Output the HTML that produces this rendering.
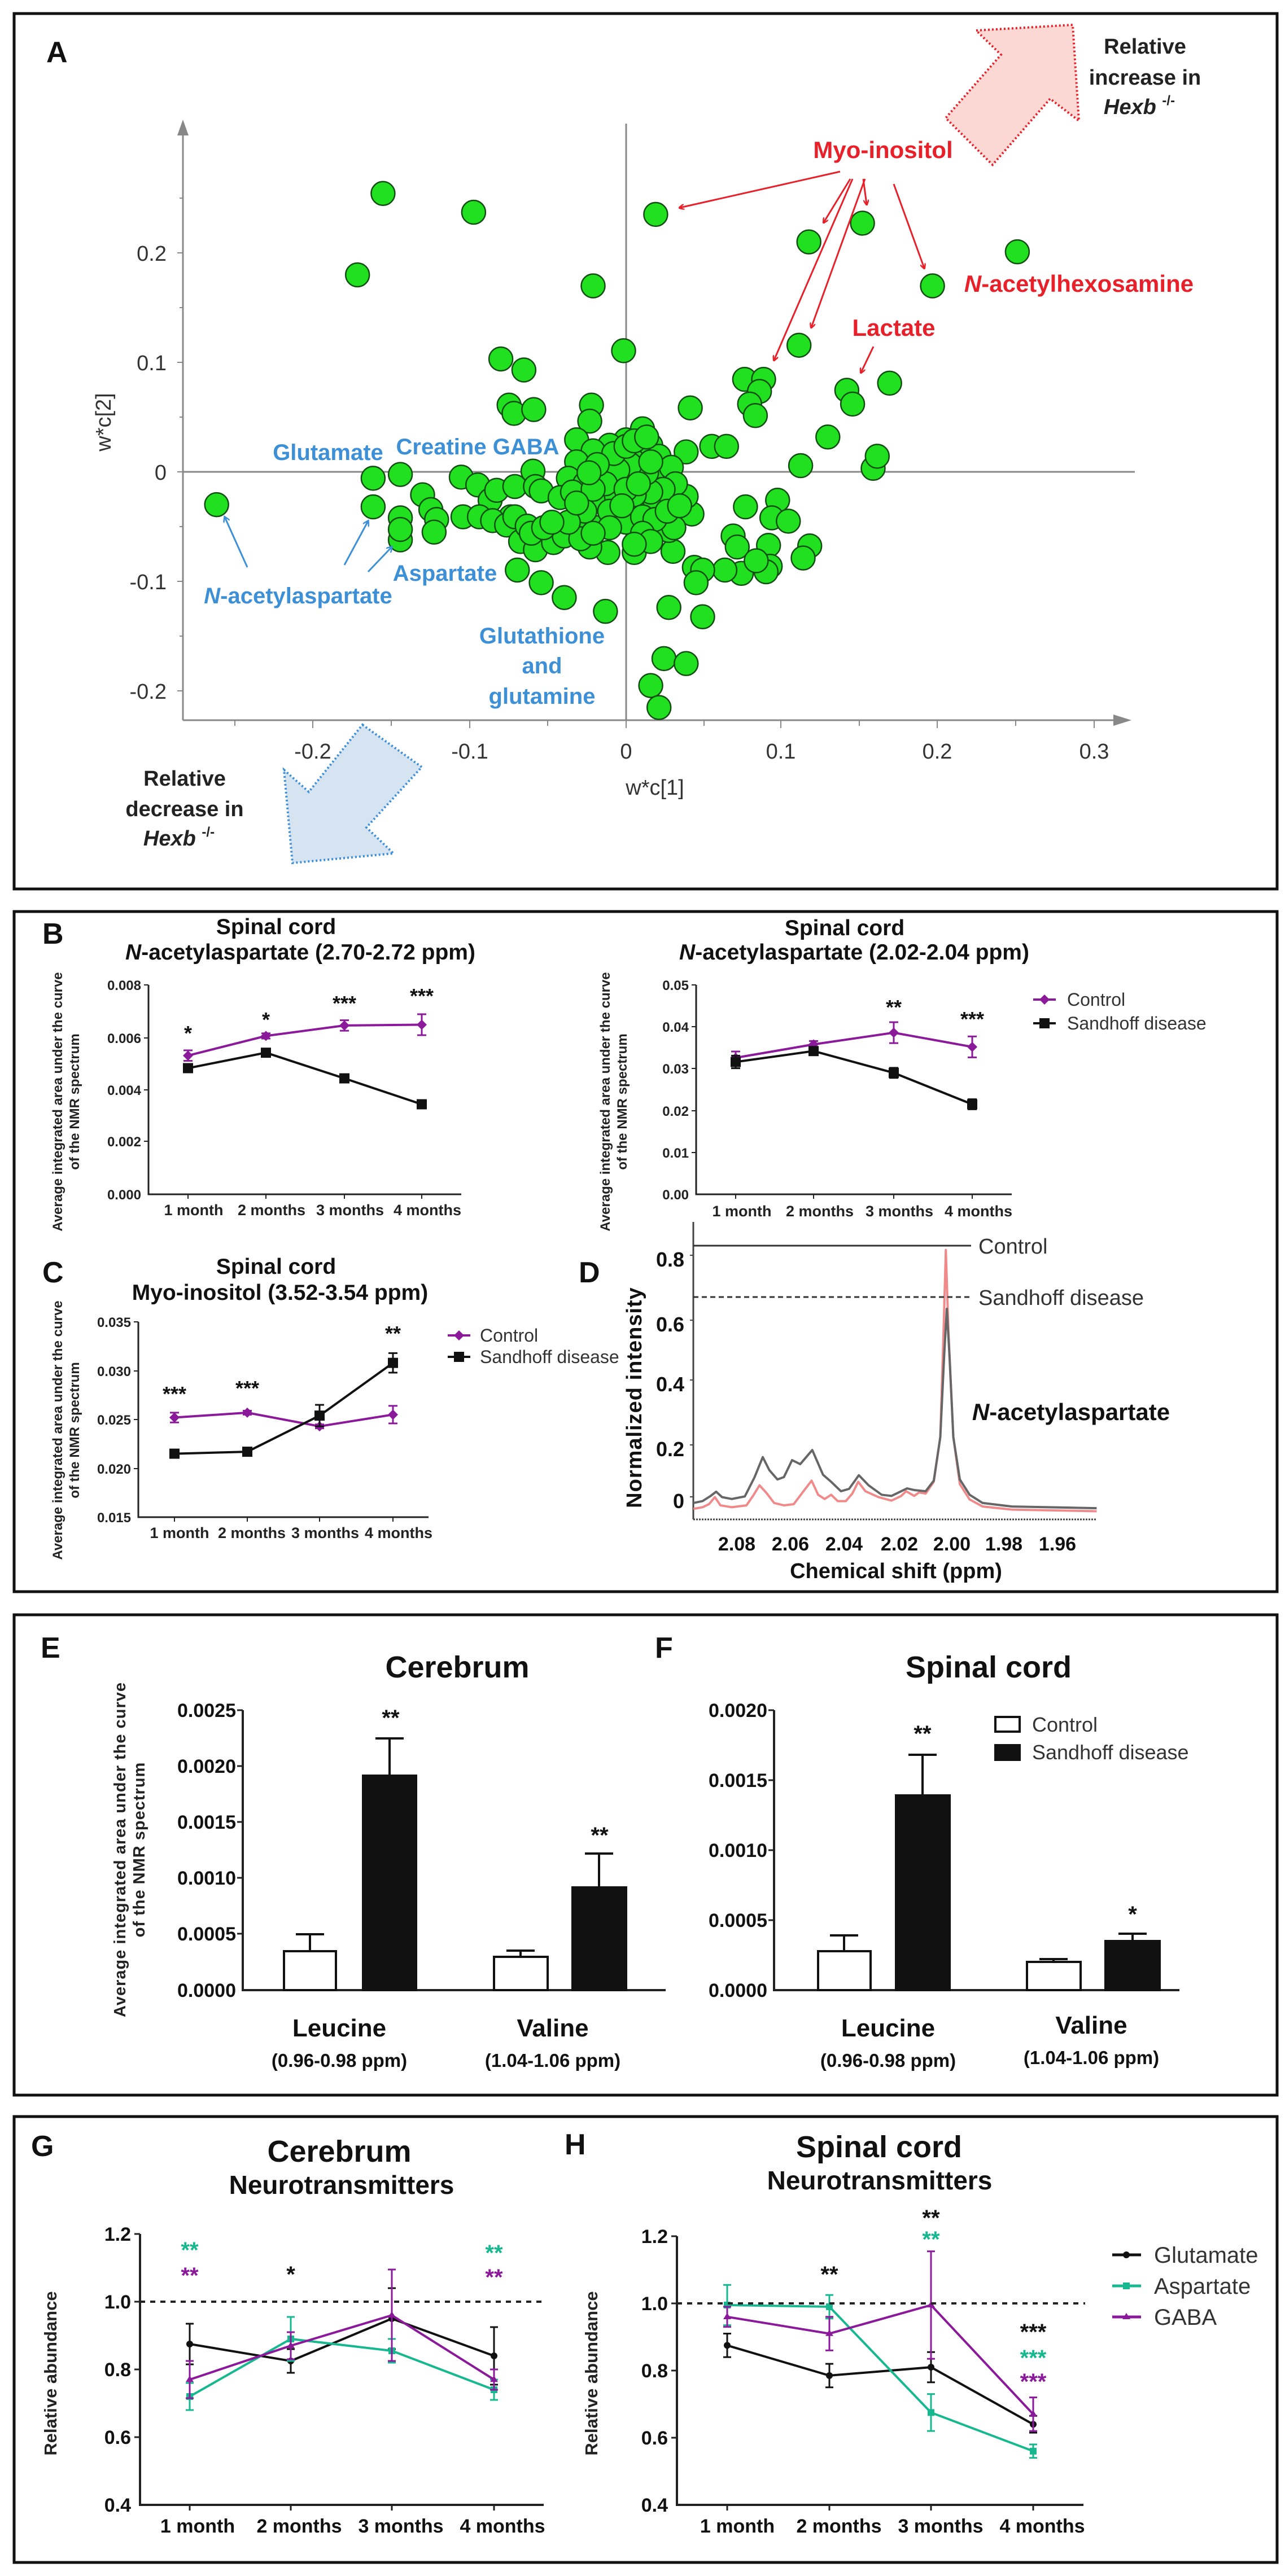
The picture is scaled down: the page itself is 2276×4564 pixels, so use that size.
<!DOCTYPE html>
<html><head><meta charset="utf-8">
<style>
html,body{margin:0;padding:0;background:#fff}
svg{display:block}
text{font-family:"Liberation Sans Narrow","Liberation Sans",sans-serif}
.b{font-weight:bold}
</style></head>
<body>
<svg id="s" xmlns="http://www.w3.org/2000/svg" width="2276" height="4564" viewBox="0 0 2276 4564">
<defs>
<marker id="ar" markerWidth="10" markerHeight="10" refX="8" refY="5" orient="auto" markerUnits="userSpaceOnUse"><path d="M0,0 L10,5 L0,10" fill="none" stroke="#e8202a" stroke-width="2.5"/></marker>
<marker id="ab" markerWidth="12" markerHeight="12" refX="9" refY="6" orient="auto" markerUnits="userSpaceOnUse"><path d="M0,0 L10,6 L0,12" fill="none" stroke="#3d8fd6" stroke-width="2.5"/></marker>
</defs>
<rect width="2276" height="4564" fill="#fff"/>
<rect x="25" y="24" width="2237" height="1551" fill="none" stroke="#111" stroke-width="5"/>
<rect x="25" y="1615" width="2237" height="1205" fill="none" stroke="#111" stroke-width="5"/>
<rect x="25" y="2861" width="2237" height="851" fill="none" stroke="#111" stroke-width="5"/>
<rect x="25" y="3750" width="2237" height="790" fill="none" stroke="#111" stroke-width="5"/>

<!-- ================= PANEL A ================= -->
<text x="82" y="110" class="b" font-size="52" fill="#111">A</text>
<polygon points="1729,54 1900,44 1911,214 1860,175 1758,292 1675,209 1773,97" fill="#fbd8d3" stroke="#e8202a" stroke-width="4" stroke-dasharray="3,4"/>
<polygon points="642,1284 747,1359 649,1466 697,1512 518,1529 503,1364 547,1403" fill="#d6e4f1" stroke="#3d8fd6" stroke-width="4" stroke-dasharray="3,4"/>
<g class="b" font-size="38" fill="#222" text-anchor="middle">
<text x="2028" y="95">Relative</text><text x="2028" y="150">increase in</text>
<text x="2018" y="202" font-style="italic">Hexb <tspan font-size="24" dy="-16" font-style="normal">-/-</tspan></text>
<text x="327" y="1392">Relative</text><text x="327" y="1446">decrease in</text>
<text x="317" y="1498" font-style="italic">Hexb <tspan font-size="24" dy="-16" font-style="normal">-/-</tspan></text>
</g>
<g stroke="#888" stroke-width="3" fill="none">
<line x1="324" y1="230" x2="324" y2="1276"/>
<line x1="324" y1="1276" x2="1985" y2="1276"/>
<line x1="324" y1="836" x2="2010" y2="836"/>
<line x1="1109" y1="219" x2="1109" y2="1276"/>
</g>
<polygon points="324,212 314,240 334,240" fill="#888"/>
<polygon points="2004,1276 1972,1266 1972,1286" fill="#888"/>
<g stroke="#888" stroke-width="2">
<line x1="314" y1="448" x2="324" y2="448"/><line x1="314" y1="642" x2="324" y2="642"/><line x1="314" y1="836" x2="324" y2="836"/><line x1="314" y1="1030" x2="324" y2="1030"/><line x1="314" y1="1224" x2="324" y2="1224"/>
<line x1="318" y1="351" x2="324" y2="351"/><line x1="318" y1="545" x2="324" y2="545"/><line x1="318" y1="739" x2="324" y2="739"/><line x1="318" y1="933" x2="324" y2="933"/><line x1="318" y1="1127" x2="324" y2="1127"/>
<line x1="416" y1="1276" x2="416" y2="1286"/><line x1="554" y1="1276" x2="554" y2="1290"/><line x1="693" y1="1276" x2="693" y2="1286"/><line x1="832" y1="1276" x2="832" y2="1290"/><line x1="970" y1="1276" x2="970" y2="1286"/><line x1="1109" y1="1276" x2="1109" y2="1290"/><line x1="1247" y1="1276" x2="1247" y2="1286"/><line x1="1383" y1="1276" x2="1383" y2="1290"/><line x1="1522" y1="1276" x2="1522" y2="1286"/><line x1="1660" y1="1276" x2="1660" y2="1290"/><line x1="1799" y1="1276" x2="1799" y2="1286"/><line x1="1938" y1="1276" x2="1938" y2="1290"/>
</g>
<g font-size="38" fill="#333" text-anchor="end">
<text x="295" y="462">0.2</text><text x="295" y="656">0.1</text><text x="295" y="850">0</text><text x="295" y="1044">-0.1</text><text x="295" y="1238">-0.2</text>
</g>
<g font-size="38" fill="#333" text-anchor="middle">
<text x="554" y="1344">-0.2</text><text x="832" y="1344">-0.1</text><text x="1109" y="1344">0</text><text x="1383" y="1344">0.1</text><text x="1660" y="1344">0.2</text><text x="1938" y="1344">0.3</text>
<text x="1160" y="1408">w*c[1]</text>
<text transform="translate(196,748) rotate(-90)">w*c[2]</text>
</g>
<g id="pts"></g>
<g stroke="#e8202a" stroke-width="3" marker-end="url(#ar)">
<line x1="1488" y1="304" x2="1204" y2="368"/>
<line x1="1506" y1="317" x2="1459" y2="394"/>
<line x1="1529" y1="317" x2="1535" y2="362"/>
<line x1="1510" y1="317" x2="1371" y2="638"/>
<line x1="1532" y1="317" x2="1437" y2="580"/>
<line x1="1583" y1="326" x2="1637" y2="475"/>
<line x1="1547" y1="614" x2="1525" y2="660"/>
</g>
<g stroke="#3d8fd6" stroke-width="3" marker-end="url(#ab)">
<line x1="438" y1="1005" x2="398" y2="916"/>
<line x1="610" y1="1001" x2="652" y2="923"/>
<line x1="652" y1="1013" x2="694" y2="969"/>
</g>
<g class="b" font-size="42" fill="#e8202a" text-anchor="middle">
<text x="1564" y="280">Myo-inositol</text>
<text x="1911" y="517"><tspan font-style="italic">N</tspan>-acetylhexosamine</text>
<text x="1583" y="595">Lactate</text>
</g>
<g class="b" font-size="40" fill="#3d8fd6" text-anchor="middle">
<text x="581" y="815">Glutamate</text>
<text x="846" y="805">Creatine GABA</text>
<text x="788" y="1029">Aspartate</text>
<text x="528" y="1069"><tspan font-style="italic">N</tspan>-acetylaspartate</text>
<text x="960" y="1140">Glutathione</text>
<text x="960" y="1193">and</text>
<text x="960" y="1247">glutamine</text>
</g>

<!-- ================= PANEL B ================= -->
<text x="75" y="1672" class="b" font-size="52" fill="#111">B</text>
<g class="b" font-size="39" fill="#111" text-anchor="middle">
<text x="489" y="1655">Spinal cord</text>
<text x="532" y="1700"><tspan font-style="italic">N</tspan>-acetylaspartate (2.70-2.72 ppm)</text>
<text x="1496" y="1657">Spinal cord</text>
<text x="1513" y="1700"><tspan font-style="italic">N</tspan>-acetylaspartate (2.02-2.04 ppm)</text>
<text x="489" y="2257">Spinal cord</text>
<text x="496" y="2303">Myo-inositol (3.52-3.54 ppm)</text>
</g>
<text x="75" y="2272" class="b" font-size="52" fill="#111">C</text>
<text x="1025" y="2272" class="b" font-size="52" fill="#111">D</text>
<g class="b" font-size="24" fill="#222" text-anchor="middle">
<text transform="translate(110,1952) rotate(-90)">Average integrated area under the curve</text>
<text transform="translate(140,1952) rotate(-90)">of the NMR spectrum</text>
<text transform="translate(1080,1952) rotate(-90)">Average integrated area under the curve</text>
<text transform="translate(1110,1952) rotate(-90)">of the NMR spectrum</text>
<text transform="translate(110,2534) rotate(-90)">Average integrated area under the curve</text>
<text transform="translate(140,2534) rotate(-90)">of the NMR spectrum</text>
</g>
<g stroke="#222" stroke-width="3" fill="none">
<polyline points="263,1745 263,2116 817,2116"/>
<polyline points="1233,1745 1233,2116 1792,2116"/>
<polyline points="245,2342 245,2688 759,2688"/>
</g>
<g stroke="#222" stroke-width="2">
<line x1="255" y1="1745" x2="263" y2="1745"/><line x1="255" y1="1839" x2="263" y2="1839"/><line x1="255" y1="1931" x2="263" y2="1931"/><line x1="255" y1="2022" x2="263" y2="2022"/>
<line x1="333" y1="2116" x2="333" y2="2124"/><line x1="471" y1="2116" x2="471" y2="2124"/><line x1="610" y1="2116" x2="610" y2="2124"/><line x1="747" y1="2116" x2="747" y2="2124"/>
<line x1="1225" y1="1745" x2="1233" y2="1745"/><line x1="1225" y1="1819" x2="1233" y2="1819"/><line x1="1225" y1="1893" x2="1233" y2="1893"/><line x1="1225" y1="1968" x2="1233" y2="1968"/><line x1="1225" y1="2042" x2="1233" y2="2042"/>
<line x1="1303" y1="2116" x2="1303" y2="2124"/><line x1="1441" y1="2116" x2="1441" y2="2124"/><line x1="1583" y1="2116" x2="1583" y2="2124"/><line x1="1722" y1="2116" x2="1722" y2="2124"/>
<line x1="237" y1="2342" x2="245" y2="2342"/><line x1="237" y1="2429" x2="245" y2="2429"/><line x1="237" y1="2515" x2="245" y2="2515"/><line x1="237" y1="2602" x2="245" y2="2602"/>
<line x1="309" y1="2688" x2="309" y2="2696"/><line x1="438" y1="2688" x2="438" y2="2696"/><line x1="566" y1="2688" x2="566" y2="2696"/><line x1="696" y1="2688" x2="696" y2="2696"/>
</g>
<g class="b" font-size="24" fill="#222" text-anchor="end">
<text x="250" y="1754">0.008</text><text x="250" y="1848">0.006</text><text x="250" y="1940">0.004</text><text x="250" y="2031">0.002</text><text x="250" y="2125">0.000</text>
<text x="1220" y="1754">0.05</text><text x="1220" y="1828">0.04</text><text x="1220" y="1902">0.03</text><text x="1220" y="1977">0.02</text><text x="1220" y="2051">0.01</text><text x="1220" y="2125">0.00</text>
<text x="232" y="2351">0.035</text><text x="232" y="2438">0.030</text><text x="232" y="2524">0.025</text><text x="232" y="2611">0.020</text><text x="232" y="2697">0.015</text>
</g>
<g class="b" font-size="27" fill="#222" text-anchor="middle">
<text x="343" y="2153">1 month</text><text x="481" y="2153">2 months</text><text x="620" y="2153">3 months</text><text x="757" y="2153">4 months</text>
<text x="1314" y="2155">1 month</text><text x="1452" y="2155">2 months</text><text x="1593" y="2155">3 months</text><text x="1733" y="2155">4 months</text>
<text x="318" y="2725">1 month</text><text x="446" y="2725">2 months</text><text x="576" y="2725">3 months</text><text x="706" y="2725">4 months</text>
</g>
<g class="b" font-size="36" fill="#111" text-anchor="middle">
<text x="333" y="1843">*</text><text x="471" y="1819">*</text><text x="610" y="1790">***</text><text x="747" y="1777">***</text>
<text x="1583" y="1797">**</text><text x="1722" y="1818">***</text>
<text x="309" y="2482">***</text><text x="438" y="2472">***</text><text x="696" y="2375">**</text>
</g>
<g id="lines"></g>
<g font-size="32" fill="#333">
<line x1="1830" y1="1771" x2="1870" y2="1771" stroke="#8b1a9b" stroke-width="4"/><path d="M1850,1762 l9,9 l-9,9 l-9,-9z" fill="#8b1a9b"/>
<text x="1890" y="1782">Control</text>
<line x1="1830" y1="1813" x2="1870" y2="1813" stroke="#111" stroke-width="4"/><rect x="1841" y="1804" width="18" height="18" fill="#111"/>
<text x="1890" y="1824">Sandhoff disease</text>
<line x1="793" y1="2366" x2="833" y2="2366" stroke="#8b1a9b" stroke-width="4"/><path d="M813,2357 l9,9 l-9,9 l-9,-9z" fill="#8b1a9b"/>
<text x="850" y="2377">Control</text>
<line x1="793" y1="2404" x2="833" y2="2404" stroke="#111" stroke-width="4"/><rect x="804" y="2395" width="18" height="18" fill="#111"/>
<text x="850" y="2415">Sandhoff disease</text>
</g>
<!-- panel D -->
<g stroke="#444" stroke-width="3" fill="none">
<line x1="1228" y1="2165" x2="1228" y2="2692"/>
<line x1="1228" y1="2692" x2="1942" y2="2692" stroke-dasharray="3,2"/>
</g>
<g stroke="#444" stroke-width="2">
<line x1="1222" y1="2224" x2="1228" y2="2224"/><line x1="1222" y1="2339" x2="1228" y2="2339"/><line x1="1222" y1="2445" x2="1228" y2="2445"/><line x1="1222" y1="2560" x2="1228" y2="2560"/><line x1="1222" y1="2652" x2="1228" y2="2652"/>
</g>
<g transform="translate(1100,2150) scale(0.577,0.417)" fill="none" stroke-linejoin="round">
<polyline vector-effect="non-scaling-stroke" stroke="#f08a8a" stroke-width="4" points="222,1255 250,1248 270,1235 288,1205 305,1240 340,1248 385,1240 405,1200 425,1155 445,1185 470,1230 500,1240 530,1235 560,1180 585,1135 605,1195 625,1213 645,1195 665,1222 690,1222 710,1190 728,1140 750,1180 790,1205 830,1220 860,1200 875,1180 900,1200 915,1185 935,1190 960,1140 980,950 990,500 997,155 1005,500 1020,950 1040,1150 1070,1215 1110,1245 1200,1258 1460,1265"/>
<polyline vector-effect="non-scaling-stroke" stroke="#666" stroke-width="4" points="222,1230 250,1222 275,1200 292,1182 310,1205 340,1213 380,1202 410,1120 435,1035 455,1090 480,1130 500,1120 525,1048 550,1065 587,1005 620,1110 645,1140 675,1180 700,1170 730,1112 760,1155 800,1195 830,1200 860,1180 878,1168 900,1175 935,1180 960,1135 980,950 992,600 1000,405 1008,600 1020,950 1040,1130 1070,1195 1110,1230 1200,1245 1460,1252"/>
</g>
<line x1="1228" y1="2207" x2="1720" y2="2207" stroke="#333" stroke-width="3"/>
<line x1="1228" y1="2298" x2="1720" y2="2298" stroke="#333" stroke-width="3" stroke-dasharray="9,6"/>
<g font-size="38" fill="#333">
<text x="1733" y="2221">Control</text>
<text x="1733" y="2312">Sandhoff disease</text>
</g>
<g class="b" font-size="36" fill="#111" text-anchor="end">
<text x="1212" y="2244">0.8</text><text x="1212" y="2359">0.6</text><text x="1212" y="2465">0.4</text><text x="1212" y="2580">0.2</text><text x="1212" y="2672">0</text>
</g>
<g class="b" font-size="34" fill="#111" text-anchor="middle">
<text x="1305" y="2747">2.08</text><text x="1400" y="2747">2.06</text><text x="1495" y="2747">2.04</text><text x="1593" y="2747">2.02</text><text x="1686" y="2747">2.00</text><text x="1778" y="2747">1.98</text><text x="1873" y="2747">1.96</text>
<text x="1587" y="2796" font-size="38">Chemical shift (ppm)</text>
<text transform="translate(1136,2476) rotate(-90)" font-size="38" letter-spacing="1">Normalized intensity</text>
<text x="1897" y="2516" font-size="42"><tspan font-style="italic">N</tspan>-acetylaspartate</text>
</g>

<!-- ================= PANEL E/F ================= -->
<text x="72" y="2937" class="b" font-size="52" fill="#111">E</text>
<text x="1160" y="2937" class="b" font-size="52" fill="#111">F</text>
<g class="b" font-size="54" fill="#111" text-anchor="middle">
<text x="810" y="2972">Cerebrum</text>
<text x="1751" y="2972">Spinal cord</text>
</g>
<g class="b" font-size="29" fill="#222" text-anchor="middle" letter-spacing="1">
<text transform="translate(222,3277) rotate(-90)">Average integrated area under the curve</text>
<text transform="translate(256,3277) rotate(-90)">of the NMR spectrum</text>
</g>
<g stroke="#222" stroke-width="4" fill="none">
<polyline points="430,3030 430,3526 1179,3526"/>
<polyline points="1371,3030 1371,3526 2089,3526"/>
</g>
<g stroke="#222" stroke-width="3">
<line x1="420" y1="3030" x2="430" y2="3030"/><line x1="420" y1="3129" x2="430" y2="3129"/><line x1="420" y1="3228" x2="430" y2="3228"/><line x1="420" y1="3327" x2="430" y2="3327"/><line x1="420" y1="3426" x2="430" y2="3426"/>
<line x1="1361" y1="3030" x2="1371" y2="3030"/><line x1="1361" y1="3154" x2="1371" y2="3154"/><line x1="1361" y1="3278" x2="1371" y2="3278"/><line x1="1361" y1="3402" x2="1371" y2="3402"/>
</g>
<g class="b" font-size="34" fill="#111" text-anchor="end">
<text x="418" y="3042">0.0025</text><text x="418" y="3141">0.0020</text><text x="418" y="3240">0.0015</text><text x="418" y="3339">0.0010</text><text x="418" y="3438">0.0005</text><text x="418" y="3538">0.0000</text>
<text x="1359" y="3042">0.0020</text><text x="1359" y="3166">0.0015</text><text x="1359" y="3290">0.0010</text><text x="1359" y="3414">0.0005</text><text x="1359" y="3538">0.0000</text>
</g>
<g stroke="#111" stroke-width="4">
<line x1="549" y1="3427" x2="549" y2="3488"/><line x1="524" y1="3427" x2="574" y2="3427"/><line x1="524" y1="3488" x2="574" y2="3488"/>
<rect x="503" y="3457" width="92" height="69" fill="#fff"/>
<line x1="690" y1="3080" x2="690" y2="3146"/><line x1="665" y1="3080" x2="715" y2="3080"/>
<rect x="643" y="3146" width="94" height="380" fill="#111"/>
<line x1="922" y1="3456" x2="922" y2="3477"/><line x1="897" y1="3456" x2="947" y2="3456"/><line x1="897" y1="3477" x2="947" y2="3477"/>
<rect x="875" y="3467" width="95" height="59" fill="#fff"/>
<line x1="1061" y1="3284" x2="1061" y2="3344"/><line x1="1036" y1="3284" x2="1086" y2="3284"/>
<rect x="1014" y="3344" width="95" height="182" fill="#111"/>
</g>
<g stroke="#111" stroke-width="4">
<line x1="1495" y1="3429" x2="1495" y2="3481"/><line x1="1470" y1="3429" x2="1520" y2="3429"/><line x1="1470" y1="3481" x2="1520" y2="3481"/>
<rect x="1449" y="3457" width="93" height="69" fill="#fff"/>
<line x1="1634" y1="3109" x2="1634" y2="3181"/><line x1="1609" y1="3109" x2="1659" y2="3109"/>
<rect x="1587" y="3181" width="95" height="345" fill="#111"/>
<line x1="1866" y1="3471" x2="1866" y2="3481"/><line x1="1841" y1="3471" x2="1891" y2="3471"/><line x1="1841" y1="3481" x2="1891" y2="3481"/>
<rect x="1819" y="3476" width="95" height="50" fill="#fff"/>
<line x1="2006" y1="3426" x2="2006" y2="3439"/><line x1="1981" y1="3426" x2="2031" y2="3426"/>
<rect x="1958" y="3439" width="96" height="87" fill="#111"/>
</g>
<g class="b" font-size="40" fill="#111" text-anchor="middle">
<text x="692" y="3057">**</text><text x="1062" y="3265">**</text>
<text x="1634" y="3085">**</text><text x="2006" y="3405">*</text>
</g>
<g class="b" font-size="44" fill="#111" text-anchor="middle">
<text x="601" y="3608">Leucine</text><text x="979" y="3608">Valine</text>
<text x="1573" y="3608">Leucine</text><text x="1933" y="3603">Valine</text>
</g>
<g class="b" font-size="33" fill="#111" text-anchor="middle">
<text x="601" y="3662">(0.96-0.98 ppm)</text><text x="979" y="3662">(1.04-1.06 ppm)</text>
<text x="1573" y="3662">(0.96-0.98 ppm)</text><text x="1933" y="3657">(1.04-1.06 ppm)</text>
</g>
<rect x="1763" y="3042" width="43" height="26" fill="#fff" stroke="#111" stroke-width="4"/>
<rect x="1763" y="3092" width="43" height="26" fill="#111" stroke="#111" stroke-width="4"/>
<g font-size="36" fill="#333"><text x="1828" y="3068">Control</text><text x="1828" y="3117">Sandhoff disease</text></g>

<!-- ================= PANEL G/H ================= -->
<text x="55" y="3820" class="b" font-size="52" fill="#111">G</text>
<text x="1000" y="3817" class="b" font-size="52" fill="#111">H</text>
<g class="b" font-size="54" fill="#111" text-anchor="middle">
<text x="601" y="3830">Cerebrum</text>
<text x="1557" y="3822">Spinal cord</text>
</g>
<g class="b" font-size="46" fill="#111" text-anchor="middle">
<text x="605" y="3887">Neurotransmitters</text>
<text x="1558" y="3879">Neurotransmitters</text>
</g>
<g class="b" font-size="31" fill="#222" text-anchor="middle">
<text transform="translate(100,4205) rotate(-90)">Relative abundance</text>
<text transform="translate(1058,4205) rotate(-90)">Relative abundance</text>
</g>
<g stroke="#222" stroke-width="4" fill="none">
<polyline points="248,3958 248,4438 963,4438"/>
<polyline points="1199,3962 1199,4438 1919,4438"/>
</g>
<g stroke="#222" stroke-width="3">
<line x1="238" y1="3958" x2="248" y2="3958"/><line x1="238" y1="4078" x2="248" y2="4078"/><line x1="238" y1="4198" x2="248" y2="4198"/><line x1="238" y1="4318" x2="248" y2="4318"/>
<line x1="336" y1="4438" x2="336" y2="4448"/><line x1="515" y1="4438" x2="515" y2="4448"/><line x1="694" y1="4438" x2="694" y2="4448"/><line x1="875" y1="4438" x2="875" y2="4448"/>
<line x1="1189" y1="3962" x2="1199" y2="3962"/><line x1="1189" y1="4081" x2="1199" y2="4081"/><line x1="1189" y1="4200" x2="1199" y2="4200"/><line x1="1189" y1="4319" x2="1199" y2="4319"/>
<line x1="1288" y1="4438" x2="1288" y2="4448"/><line x1="1469" y1="4438" x2="1469" y2="4448"/><line x1="1649" y1="4438" x2="1649" y2="4448"/><line x1="1830" y1="4438" x2="1830" y2="4448"/>
</g>
<line x1="248" y1="4078" x2="968" y2="4078" stroke="#222" stroke-width="4" stroke-dasharray="9,9"/>
<line x1="1199" y1="4081" x2="1922" y2="4081" stroke="#222" stroke-width="4" stroke-dasharray="9,9"/>
<g class="b" font-size="34" fill="#111" text-anchor="end">
<text x="232" y="3970">1.2</text><text x="232" y="4090">1.0</text><text x="232" y="4210">0.8</text><text x="232" y="4330">0.6</text><text x="232" y="4450">0.4</text>
<text x="1183" y="3974">1.2</text><text x="1183" y="4093">1.0</text><text x="1183" y="4212">0.8</text><text x="1183" y="4331">0.6</text><text x="1183" y="4450">0.4</text>
</g>
<g class="b" font-size="34" fill="#111" text-anchor="middle">
<text x="350" y="4487">1 month</text><text x="530" y="4487">2 months</text><text x="710" y="4487">3 months</text><text x="890" y="4487">4 months</text>
<text x="1306" y="4487">1 month</text><text x="1486" y="4487">2 months</text><text x="1666" y="4487">3 months</text><text x="1846" y="4487">4 months</text>
</g>
<g class="b" font-size="40" text-anchor="middle">
<text x="336" y="4000" fill="#17b890">**</text><text x="336" y="4045" fill="#8b1a9b">**</text>
<text x="515" y="4043" fill="#111">*</text>
<text x="875" y="4005" fill="#17b890">**</text><text x="875" y="4048" fill="#8b1a9b">**</text>
<text x="1469" y="4043" fill="#111">**</text>
<text x="1649" y="3943" fill="#111">**</text><text x="1649" y="3981" fill="#17b890">**</text>
<text x="1830" y="4145" fill="#111">***</text><text x="1830" y="4191" fill="#17b890">***</text><text x="1830" y="4233" fill="#8b1a9b">***</text>
</g>
<g font-size="40" fill="#333">
<line x1="1970" y1="3995" x2="2021" y2="3995" stroke="#111" stroke-width="5"/><circle cx="1995" cy="3995" r="6" fill="#111"/>
<text x="2044" y="4009">Glutamate</text>
<line x1="1970" y1="4050" x2="2021" y2="4050" stroke="#17b890" stroke-width="5"/><rect x="1989" y="4044" width="12" height="12" fill="#17b890"/>
<text x="2044" y="4064">Aspartate</text>
<line x1="1970" y1="4105" x2="2021" y2="4105" stroke="#8b1a9b" stroke-width="5"/><path d="M1995,4098 l7,11 l-14,0z" fill="#8b1a9b"/>
<text x="2044" y="4119">GABA</text>
</g>
</svg>
<script>
(function(){
var NS="http://www.w3.org/2000/svg";
function el(p,t,a){var e=document.createElementNS(NS,t);for(var k in a)e.setAttribute(k,a[k]);p.appendChild(e);return e;}
var z=[[465,352],[575,386],[434,500],[720,520],[796,390],[757,638],[982,440],[1047,406],[1132,520],[1235,458],[970,628],[608,653],[636,673],[1080,697],[904,690],[927,690],[922,712],[910,735],[917,756],[1028,710],[1035,735],[1005,795],[838,742],[618,737],[624,752],[648,745],[718,737],[716,766],[263,918],[453,870],[486,863],[453,922],[486,942],[486,982],[486,963],[513,900],[523,927],[530,945],[527,968],[560,868],[562,940],[580,882],[595,910],[603,892],[582,940],[620,940],[598,947],[615,955],[625,885],[647,857],[650,885],[657,893],[632,985],[650,1000],[628,1037],[657,1060],[685,1087],[735,1112],[812,1105],[853,1122],[806,1198],[833,1207],[790,1247],[800,1287],[770,1005],[738,1005],[716,995],[672,987],[685,975],[700,800],[864,812],[882,812],[833,822],[972,847],[1060,852],[1065,830],[905,922],[944,910],[937,942],[957,948],[983,993],[975,1015],[933,992],[935,1030],[930,1040],[900,1043],[880,1037],[890,975],[895,995],[918,1020],[843,1032],[853,1037],[845,1060],[817,1003],[812,965],[840,935],[833,903],[818,960],[625,940],[640,957],[645,970],[700,945],[705,980],[725,960],[750,945],[765,935],[780,920],[795,910],[810,870],[800,860],[780,780],[760,800],[740,810],[720,820],[700,840],[690,870],[710,880],[730,860],[745,840],[760,830],[775,820],[790,810],[800,830],[815,850],[820,880],[805,890],[790,895],[770,900],[750,905],[735,900],[720,910],[710,930],[690,950],[740,930],[760,950],[780,940],[795,945],[810,930],[825,920],[660,960],[670,950],[680,905],[695,895],[750,870],[770,870],[785,860],[765,845],[750,855],[735,880],[720,890],[700,915],[760,890],[775,880],[790,840],[745,825],[760,812],[770,802],[785,795],[725,845],[715,860],[755,920],[740,960],[720,970],[780,970],[790,985],[770,990]];
var g=document.getElementById("pts");
z.forEach(function(p){el(g,"circle",{cx:(p[0]*1.459).toFixed(1),cy:(p[1]*0.974).toFixed(1),r:21,fill:"#20e020",stroke:"#124d12","stroke-width":2.5});});
var L=document.getElementById("lines");
function series(xs,yf,vals,errs,col,mk,cap){
  var pts=xs.map(function(x,i){return x+","+yf(vals[i]).toFixed(1)}).join(" ");
  el(L,"polyline",{points:pts,fill:"none",stroke:col,"stroke-width":4});
  xs.forEach(function(x,i){
    var y1=yf(vals[i]+errs[i]),y2=yf(vals[i]-errs[i]);
    el(L,"line",{x1:x,x2:x,y1:y1,y2:y2,stroke:col,"stroke-width":3});
    el(L,"line",{x1:x-cap,x2:x+cap,y1:y1,y2:y1,stroke:col,"stroke-width":3});
    el(L,"line",{x1:x-cap,x2:x+cap,y1:y2,y2:y2,stroke:col,"stroke-width":3});
    var y=yf(vals[i]),s=mk[1];
    if(mk[0]=="d")el(L,"path",{d:"M"+x+","+(y-s)+" l"+s+","+s+" l"+(-s)+","+s+" l"+(-s)+","+(-s)+"z",fill:col});
    else if(mk[0]=="s")el(L,"rect",{x:x-s,y:y-s,width:2*s,height:2*s,fill:col});
    else if(mk[0]=="c")el(L,"circle",{cx:x,cy:y,r:s,fill:col});
    else el(L,"path",{d:"M"+x+","+(y-s)+" l"+s+","+(1.6*s)+" l"+(-2*s)+",0z",fill:col});
  });
}
var P="#8b1a9b",K="#111",T="#17b890";
var xb1=[333,471,610,747],yb1=function(v){return 2116-v*46375};
series(xb1,yb1,[0.0053,0.00605,0.00645,0.00648],[0.0002,0.0001,0.0002,0.0004],P,["d",9],8);
series(xb1,yb1,[0.00482,0.00541,0.00443,0.00344],[0.0001,0.00015,0.00012,0.00015],K,["s",9],8);
var xb2=[1303,1441,1583,1722],yb2=function(v){return 2116-v*7420};
series(xb2,yb2,[0.0326,0.0358,0.0386,0.0352],[0.0015,0.0008,0.0025,0.0025],P,["d",9],8);
series(xb2,yb2,[0.0316,0.0342,0.029,0.0215],[0.0015,0.0008,0.0012,0.0012],K,["s",9],8);
var xc=[309,438,566,696],yc=function(v){return 2688-(v-0.015)*17300};
series(xc,yc,[0.0252,0.0257,0.0243,0.0255],[0.0005,0.0002,0.0002,0.0009],P,["d",9],8);
series(xc,yc,[0.0215,0.0217,0.0254,0.0308],[0.0004,0.0003,0.0011,0.001],K,["s",9],8);
var xg=[336,515,694,875],yg=function(v){return 4438-(v-0.4)*600};
series(xg,yg,[0.875,0.825,0.95,0.84],[0.06,0.035,0.09,0.085],K,["c",6],7);
series(xg,yg,[0.72,0.89,0.855,0.74],[0.04,0.065,0.035,0.03],T,["s",6],7);
series(xg,yg,[0.77,0.87,0.96,0.77],[0.055,0.04,0.135,0.03],P,["t",7],7);
var xh=[1288,1469,1649,1830],yh=function(v){return 4438-(v-0.4)*595};
series(xh,yh,[0.875,0.785,0.81,0.64],[0.035,0.035,0.045,0.025],K,["c",6],7);
series(xh,yh,[0.995,0.99,0.675,0.56],[0.06,0.035,0.055,0.02],T,["s",6],7);
series(xh,yh,[0.96,0.91,0.995,0.67],[0.03,0.05,0.16,0.05],P,["t",7],7);
})();
</script>
</body></html>
